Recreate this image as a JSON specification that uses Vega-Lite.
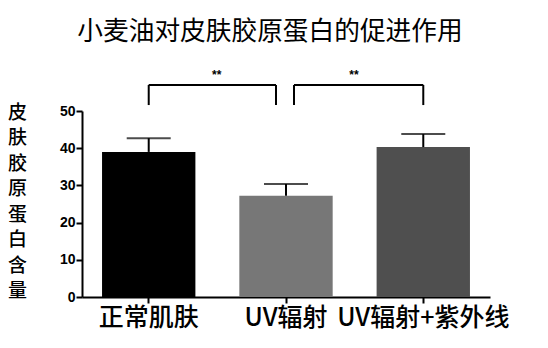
{
  "$schema": "https://vega.github.io/schema/vega-lite/v6.json",
  "width": 408,
  "height": 186,
  "autosize": {"type": "none"},
  "padding": {"left": 82, "top": 111, "right": 58, "bottom": 51},
  "title": {
    "text": "小麦油对皮肤胶原蛋白的促进作用",
    "font": "Noto Sans CJK SC",
    "fontSize": 25.7,
    "fontWeight": "normal",
    "color": "#000000",
    "dx": -16,
    "offset": 23
  },
  "datasets": {
    "bars": [
      {"group": "正常肌肤", "mean": 39.0, "upper": 42.7},
      {"group": "UV辐射", "mean": 27.2, "upper": 30.4},
      {"group": "UV辐射+紫外线", "mean": 40.3, "upper": 43.8}
    ],
    "bracketA": [{"from": "正常肌肤", "to": "UV辐射", "top": 57, "low": 51.6, "label": "**", "ly": 59.7}],
    "bracketB": [{"from": "UV辐射", "to": "UV辐射+紫外线", "top": 57, "low": 51.6, "label": "**", "ly": 59.7}]
  },
  "encoding": {
    "x": {
      "field": "group",
      "type": "nominal",
      "sort": ["正常肌肤", "UV辐射", "UV辐射+紫外线"],
      "scale": {"domain": ["正常肌肤", "UV辐射", "UV辐射+紫外线"], "paddingInner": 0.32, "paddingOuter": 0.146},
      "axis": {
        "title": null,
        "labelAngle": 0,
        "labelFont": "Noto Sans CJK SC",
        "labelFontSize": 25,
        "labelFontWeight": 500,
        "labelColor": "#000000",
        "labelPadding": 2,
        "domainColor": "#000000",
        "domainWidth": 2,
        "tickColor": "#000000",
        "tickWidth": 2,
        "tickSize": 6,
        "labelOverlap": false,
        "labelLimit": 300
      }
    }
  },
  "layer": [
    {
      "data": {"name": "bars"},
      "mark": {"type": "bar"},
      "encoding": {
        "y": {
          "field": "mean",
          "type": "quantitative",
          "scale": {"domain": [0, 50], "nice": false},
          "axis": {
            "title": ["皮", "肤", "胶", "原", "蛋", "白", "含", "量"],
            "titleAngle": 0,
            "titleFont": "Noto Sans CJK SC",
            "titleFontSize": 19,
            "titleFontWeight": 500,
            "titleColor": "#000000",
            "titleLineHeight": 25.5,
            "titleAlign": "center",
            "titleBaseline": "middle",
            "titleX": -65,
            "titleY": 1,
            "values": [0, 10, 20, 30, 40, 50],
            "tickCount": 6,
            "labelOverlap": false,
            "labelFlush": false,
            "grid": false,
            "labelFont": "Liberation Sans",
            "labelFontSize": 14,
            "labelFontWeight": "bold",
            "labelColor": "#000000",
            "labelPadding": 1,
            "domainColor": "#000000",
            "domainWidth": 2,
            "tickColor": "#000000",
            "tickWidth": 2,
            "tickSize": 6
          }
        },
        "color": {
          "field": "group",
          "type": "nominal",
          "scale": {"domain": ["正常肌肤", "UV辐射", "UV辐射+紫外线"], "range": ["#000000", "#777777", "#4f4f4f"]},
          "legend": null
        }
      }
    },
    {
      "data": {"name": "bars"},
      "mark": {"type": "rule", "color": "#000000", "strokeWidth": 2},
      "encoding": {
        "y": {"field": "mean", "type": "quantitative", "axis": {"values": [0, 10, 20, 30, 40, 50], "tickCount": 6}},
        "y2": {"field": "upper"}
      }
    },
    {
      "data": {"name": "bars"},
      "mark": {"type": "tick", "color": "#000000", "thickness": 2, "size": 44, "orient": "horizontal"},
      "encoding": {
        "y": {"field": "upper", "type": "quantitative", "axis": {"values": [0, 10, 20, 30, 40, 50], "tickCount": 6}}
      }
    },
    {
      "data": {"name": "bracketA"},
      "mark": {"type": "rule", "color": "#000000", "strokeWidth": 2, "x2Offset": -10},
      "encoding": {
        "x": {"field": "from", "type": "nominal"},
        "x2": {"field": "to"},
        "y": {"field": "top", "type": "quantitative", "axis": {"values": [0, 10, 20, 30, 40, 50], "tickCount": 6}}
      }
    },
    {
      "data": {"name": "bracketA"},
      "mark": {"type": "rule", "color": "#000000", "strokeWidth": 2},
      "encoding": {
        "x": {"field": "from", "type": "nominal"},
        "y": {"field": "low", "type": "quantitative", "axis": {"values": [0, 10, 20, 30, 40, 50], "tickCount": 6}},
        "y2": {"field": "top"}
      }
    },
    {
      "data": {"name": "bracketA"},
      "mark": {"type": "rule", "color": "#000000", "strokeWidth": 2, "xOffset": -10},
      "encoding": {
        "x": {"field": "to", "type": "nominal"},
        "y": {"field": "low", "type": "quantitative", "axis": {"values": [0, 10, 20, 30, 40, 50], "tickCount": 6}},
        "y2": {"field": "top"}
      }
    },
    {
      "data": {"name": "bracketB"},
      "mark": {"type": "rule", "color": "#000000", "strokeWidth": 2, "xOffset": 8},
      "encoding": {
        "x": {"field": "from", "type": "nominal"},
        "x2": {"field": "to"},
        "y": {"field": "top", "type": "quantitative", "axis": {"values": [0, 10, 20, 30, 40, 50], "tickCount": 6}}
      }
    },
    {
      "data": {"name": "bracketB"},
      "mark": {"type": "rule", "color": "#000000", "strokeWidth": 2, "xOffset": 8},
      "encoding": {
        "x": {"field": "from", "type": "nominal"},
        "y": {"field": "low", "type": "quantitative", "axis": {"values": [0, 10, 20, 30, 40, 50], "tickCount": 6}},
        "y2": {"field": "top"}
      }
    },
    {
      "data": {"name": "bracketB"},
      "mark": {"type": "rule", "color": "#000000", "strokeWidth": 2},
      "encoding": {
        "x": {"field": "to", "type": "nominal"},
        "y": {"field": "low", "type": "quantitative", "axis": {"values": [0, 10, 20, 30, 40, 50], "tickCount": 6}},
        "y2": {"field": "top"}
      }
    },
    {
      "data": {"name": "bracketA"},
      "mark": {"type": "text", "font": "Liberation Sans", "fontSize": 12, "fontWeight": "bold", "color": "#000000", "dx": 68, "baseline": "middle"},
      "encoding": {
        "x": {"field": "from", "type": "nominal"},
        "y": {"field": "ly", "type": "quantitative", "axis": {"values": [0, 10, 20, 30, 40, 50], "tickCount": 6}},
        "text": {"field": "label"}
      }
    },
    {
      "data": {"name": "bracketB"},
      "mark": {"type": "text", "font": "Liberation Sans", "fontSize": 12, "fontWeight": "bold", "color": "#000000", "dx": 68, "baseline": "middle"},
      "encoding": {
        "x": {"field": "from", "type": "nominal"},
        "y": {"field": "ly", "type": "quantitative", "axis": {"values": [0, 10, 20, 30, 40, 50], "tickCount": 6}},
        "text": {"field": "label"}
      }
    }
  ],
  "config": {"view": {"stroke": null}}
}
